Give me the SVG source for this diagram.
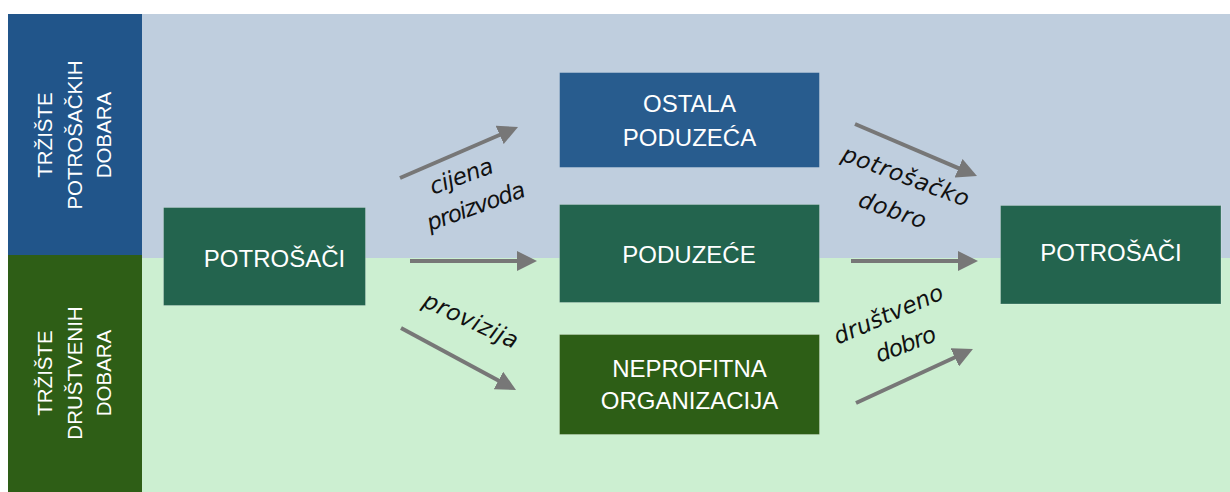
<svg xmlns="http://www.w3.org/2000/svg" width="1230" height="492" viewBox="0 0 1230 492">
  <style>
    .box { stroke: #ffffff; stroke-opacity: 0.25; stroke-width: 1; }
    .teal { fill: #23644E; }
    .blue { fill: #285C8E; }
    .green { fill: #2D5E16; }
    .lbl { font-family: "Liberation Sans", Arial, sans-serif; font-size: 24px; fill: #ffffff; text-anchor: middle; }
    .side { font-family: "Liberation Sans", Arial, sans-serif; font-size: 20.5px; fill: #ffffff; text-anchor: middle; }
    .hand { font-family: "DejaVu Sans", sans-serif; font-style: italic; font-size: 23px; fill: #111111; text-anchor: middle; }
    .arr { stroke: #777777; stroke-width: 4; fill: none; marker-end: url(#head); }
  </style>
  <defs>
    <marker id="head" markerUnits="userSpaceOnUse" markerWidth="20" markerHeight="20" viewBox="0 0 20 20" refX="1" refY="10" orient="auto">
      <path d="M0,0 L20,10 L0,20 z" fill="#777777"/>
    </marker>
  </defs>

  <!-- background -->
  <rect x="0" y="0" width="1230" height="492" fill="#ffffff"/>
  <rect x="142" y="14" width="1088" height="244" fill="#BFCEDE"/>
  <rect x="142" y="258" width="1088" height="234" fill="#CCEFD1"/>
  <rect x="8" y="14" width="134" height="241" fill="#21558A"/>
  <rect x="8" y="255" width="134" height="237" fill="#2E5E16"/>

  <g id="band-top">
    <g transform="translate(52,135) rotate(-90)"><text class="side" x="0" y="0">TRŽIŠTE</text></g>
    <g transform="translate(81.5,135) rotate(-90)"><text class="side" x="0" y="0">POTROŠAČKIH</text></g>
    <g transform="translate(110.5,135) rotate(-90)"><text class="side" x="0" y="0">DOBARA</text></g>
  </g>
  <g id="band-bottom">
    <g transform="translate(52,373) rotate(-90)"><text class="side" x="0" y="0">TRŽIŠTE</text></g>
    <g transform="translate(81.5,373) rotate(-90)"><text class="side" x="0" y="0">DRUŠTVENIH</text></g>
    <g transform="translate(110.5,373) rotate(-90)"><text class="side" x="0" y="0">DOBARA</text></g>
  </g>

  <g id="potrosaci-left">
    <rect class="box teal" x="163.5" y="207.5" width="202" height="98"/>
    <text class="lbl" x="274.5" y="266.5">POTROŠAČI</text>
  </g>
  <g id="ostala-poduzeca">
    <rect class="box blue" x="559.5" y="72.5" width="260" height="95"/>
    <text class="lbl" x="689.5" y="111.5">OSTALA</text>
    <text class="lbl" x="689.5" y="146">PODUZEĆA</text>
  </g>
  <g id="poduzece">
    <rect class="box teal" x="559.5" y="204.5" width="260" height="98"/>
    <text class="lbl" x="689" y="262.5">PODUZEĆE</text>
  </g>
  <g id="neprofitna">
    <rect class="box green" x="559.5" y="334.5" width="260" height="100"/>
    <text class="lbl" x="689.5" y="376.5">NEPROFITNA</text>
    <text class="lbl" x="689.5" y="408.5">ORGANIZACIJA</text>
  </g>
  <g id="potrosaci-right">
    <rect class="box teal" x="1000.5" y="205.5" width="220.5" height="98.5"/>
    <text class="lbl" x="1111" y="261">POTROŠAČI</text>
  </g>

  <g id="connectors">
    <line class="arr" x1="400" y1="178" x2="500.6" y2="134.5"/>
    <line class="arr" x1="410" y1="261" x2="518" y2="261"/>
    <line class="arr" x1="401" y1="328" x2="499.3" y2="381"/>
    <line class="arr" x1="855" y1="124" x2="959.5" y2="168.6"/>
    <line class="arr" x1="851" y1="261" x2="959" y2="261"/>
    <line class="arr" x1="856" y1="403" x2="955.7" y2="357"/>
  </g>

  <g id="labels">
    <text class="hand" transform="translate(464,183.5) rotate(-20)" textLength="66" lengthAdjust="spacing">cijena</text>
    <text class="hand" transform="translate(478.5,213.5) rotate(-20)" textLength="103" lengthAdjust="spacing">proizvoda</text>
    <text class="hand" transform="translate(467.5,327.5) rotate(25)" textLength="102" lengthAdjust="spacing">provizija</text>
    <text class="hand" transform="translate(903,183.5) rotate(20.5)" textLength="134" lengthAdjust="spacing">potrošačko</text>
    <text class="hand" transform="translate(890,217.5) rotate(19)" textLength="70" lengthAdjust="spacing">dobro</text>
    <text class="hand" transform="translate(891.5,321.5) rotate(-23.5)" textLength="117" lengthAdjust="spacing">društveno</text>
    <text class="hand" transform="translate(908.5,351.5) rotate(-21)" textLength="63" lengthAdjust="spacing">dobro</text>
  </g>
</svg>
